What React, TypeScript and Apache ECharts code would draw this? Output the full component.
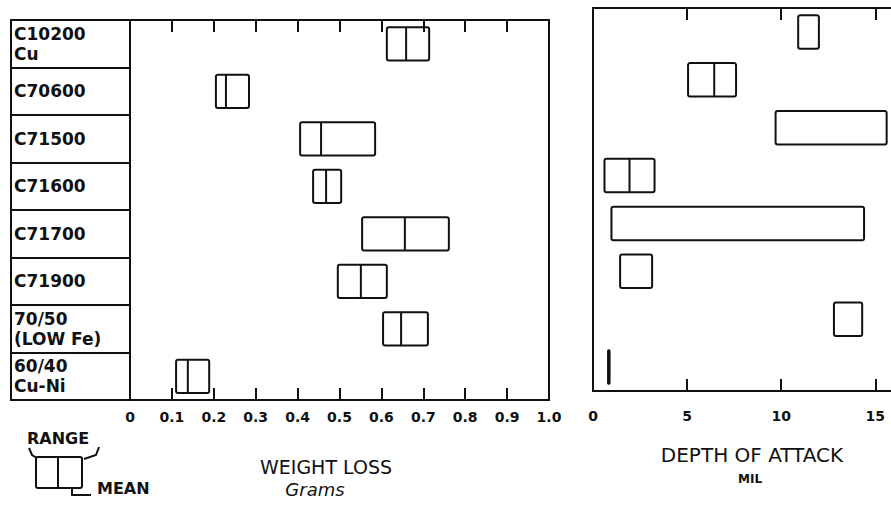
import React, { useEffect, useRef } from 'react';
import * as echarts from 'echarts';

const categories = ['C10200\nCu', 'C70600', 'C71500', 'C71600', 'C71700', 'C71900', '70/50\n(LOW Fe)', '60/40\nCu-Ni'];

// Weight loss, grams
const weightLow = [0.613, 0.205, 0.406, 0.437, 0.554, 0.496, 0.604, 0.11];
const weightHigh = [0.714, 0.284, 0.585, 0.504, 0.761, 0.613, 0.711, 0.189];
const weightMean = [0.659, 0.229, 0.456, 0.468, 0.656, 0.551, 0.647, 0.138];

// Depth of attack, mil
const depthLow = [10.9, 5.05, 9.7, 0.61, 0.98, 1.44, 12.8, 0.8];
const depthHigh = [12.0, 7.6, 15.6, 3.27, 14.4, 3.14, 14.3, 0.88];
const depthMean: (number | null)[] = [null, 6.44, null, 1.94, null, null, null, null];

const weightTicks = [0, 0.1, 0.2, 0.3, 0.4, 0.5, 0.6, 0.7, 0.8, 0.9, 1.0];
const depthTicks = [0, 5, 10, 15];

const INK = '#111';
const FONT = '"DejaVu Sans", sans-serif';

function makeRenderer(means: (number | null)[], heightFrac: number) {
  return (params: any, api: any) => {
    const cat = api.value(0);
    const low = api.value(1);
    const high = api.value(2);
    const p1 = api.coord([low, cat]);
    const p2 = api.coord([high, cat]);
    const h = api.size([0, 1])[1] * heightFrac;
    const children: any[] = [
      {
        type: 'rect',
        shape: { x: p1[0], y: p1[1] - h / 2, width: p2[0] - p1[0], height: h, r: 2 },
        style: { fill: 'none', stroke: INK, lineWidth: 2 },
      },
    ];
    const m = means[params.dataIndex];
    if (m !== null && m !== undefined) {
      const pm = api.coord([m, cat]);
      children.push({
        type: 'line',
        shape: { x1: pm[0], y1: pm[1] - h / 2, x2: pm[0], y2: pm[1] + h / 2 },
        style: { stroke: INK, lineWidth: 2 },
      });
    }
    return { type: 'group', children };
  };
}

const weightData = categories.map((_, i) => [i, weightLow[i], weightHigh[i]]);
const depthData = categories.map((_, i) => [i, depthLow[i], depthHigh[i]]);

const axisCommon = {
  type: 'value' as const,
  axisLine: { show: true, lineStyle: { color: INK, width: 2 } },
  axisTick: { show: true, inside: true, length: 12, lineStyle: { color: INK, width: 2 } },
  splitLine: { show: false },
};

const option: any = {
  animation: false,
  backgroundColor: '#fff',
  grid: [
    { left: 11, top: 20, width: 119, height: 380, show: true, borderColor: INK, borderWidth: 2, outerBoundsMode: 'none', containLabel: false },
    { left: 130, top: 20, width: 419, height: 380, show: true, borderColor: INK, borderWidth: 2, outerBoundsMode: 'none', containLabel: false },
    { left: 593, top: 8, width: 320, height: 383, show: true, borderColor: INK, borderWidth: 2, outerBoundsMode: 'none', containLabel: false },
  ],
  xAxis: [
    { gridIndex: 0, type: 'value', min: 0, max: 1, show: false },
    {
      ...axisCommon,
      gridIndex: 1,
      position: 'bottom',
      min: 0,
      max: 1,
      interval: 0.1,
      axisLabel: {
        margin: 10,
        color: INK,
        fontSize: 14,
        fontWeight: 'bold',
        fontFamily: FONT,
        formatter: (v: number) => {
          const t = weightTicks.find((w) => Math.abs(w - v) < 1e-6);
          return t === undefined ? '' : t === 0 ? '0' : t.toFixed(1);
        },
      },
    },
    {
      ...axisCommon,
      gridIndex: 1,
      position: 'top',
      min: 0,
      max: 1,
      interval: 0.1,
      axisLabel: { show: false },
    },
    {
      ...axisCommon,
      gridIndex: 2,
      position: 'bottom',
      min: 0,
      max: 17,
      interval: 5,
      axisLabel: {
        margin: 18,
        color: INK,
        fontSize: 14,
        fontWeight: 'bold',
        fontFamily: FONT,
        showMaxLabel: false,
        formatter: (v: number) => (depthTicks.includes(v) ? String(v) : ''),
      },
    },
    {
      ...axisCommon,
      gridIndex: 2,
      position: 'top',
      min: 0,
      max: 17,
      interval: 5,
      axisLabel: { show: false },
    },
  ],
  yAxis: [
    {
      gridIndex: 0,
      type: 'category',
      data: categories,
      inverse: true,
      axisLine: { show: false },
      axisTick: { show: false },
      splitLine: { show: true, lineStyle: { color: INK, width: 2 } },
      axisLabel: {
        inside: true,
        margin: 3,
        align: 'left',
        color: INK,
        fontSize: 17,
        fontWeight: 'bold',
        fontFamily: FONT,
        lineHeight: 20,
      },
    },
    {
      gridIndex: 1,
      type: 'category',
      data: categories,
      inverse: true,
      axisLine: { show: false },
      axisTick: { show: false },
      axisLabel: { show: false },
      splitLine: { show: false },
    },
    {
      gridIndex: 2,
      type: 'category',
      data: categories,
      inverse: true,
      axisLine: { show: false },
      axisTick: { show: false },
      axisLabel: { show: false },
      splitLine: { show: false },
    },
  ],
  series: [
    {
      type: 'custom',
      xAxisIndex: 1,
      yAxisIndex: 1,
      data: weightData,
      encode: { x: [1, 2], y: 0 },
      renderItem: makeRenderer(weightMean, 0.7),
    },
    {
      type: 'custom',
      xAxisIndex: 3,
      yAxisIndex: 2,
      data: depthData,
      encode: { x: [1, 2], y: 0 },
      renderItem: makeRenderer(depthMean, 0.7),
    },
  ],
  graphic: [
    {
      type: 'text',
      left: 27,
      top: 430,
      style: { text: 'RANGE', fill: INK, font: `bold 16px ${FONT}` },
    },
    {
      type: 'rect',
      shape: { x: 36, y: 457, width: 46, height: 31, r: 2 },
      style: { fill: 'none', stroke: INK, lineWidth: 2 },
    },
    {
      type: 'line',
      shape: { x1: 58, y1: 457, x2: 58, y2: 488 },
      style: { stroke: INK, lineWidth: 2 },
    },
    {
      type: 'polyline',
      shape: { points: [[29, 448], [32, 455], [37, 458]] },
      style: { fill: 'none', stroke: INK, lineWidth: 2 },
    },
    {
      type: 'polyline',
      shape: { points: [[99, 447], [96, 455], [84, 459]] },
      style: { fill: 'none', stroke: INK, lineWidth: 2 },
    },
    {
      type: 'polyline',
      shape: { points: [[72, 488], [72, 495], [91, 495]] },
      style: { fill: 'none', stroke: INK, lineWidth: 2 },
    },
    {
      type: 'text',
      left: 97,
      top: 480,
      style: { text: 'MEAN', fill: INK, font: `bold 16px ${FONT}` },
    },
    {
      type: 'text',
      x: 326,
      y: 467,
      style: { text: 'WEIGHT LOSS', fill: INK, font: `19px ${FONT}`, align: 'center', verticalAlign: 'middle' },
    },
    {
      type: 'text',
      x: 315,
      y: 489,
      style: { text: 'Grams', fill: INK, font: `italic 18px ${FONT}`, align: 'center', verticalAlign: 'middle' },
    },
    {
      type: 'text',
      x: 752,
      y: 455,
      style: { text: 'DEPTH OF ATTACK', fill: INK, font: `20px ${FONT}`, align: 'center', verticalAlign: 'middle' },
    },
    {
      type: 'text',
      x: 750,
      y: 479,
      style: { text: 'MIL', fill: INK, font: `bold 12px ${FONT}`, align: 'center', verticalAlign: 'middle' },
    },
  ],
};

export default function App() {
  const ref = useRef<HTMLDivElement>(null);
  useEffect(() => {
    if (!ref.current) return;
    const chart = echarts.init(ref.current, null, { renderer: 'svg' });
    chart.setOption(option);
    return () => chart.dispose();
  }, []);
  return (
    <div
      ref={ref}
      style={{ position: 'absolute', left: 0, top: 0, width: 891, height: 508, background: '#fff' }}
    />
  );
}
